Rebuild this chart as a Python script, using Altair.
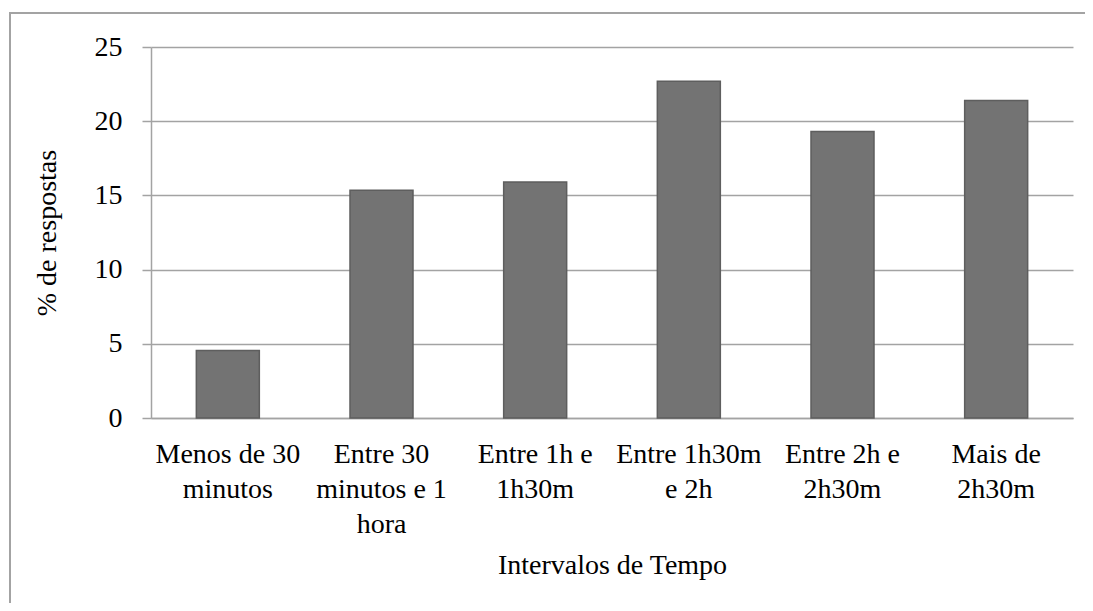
import altair as alt
import pandas as pd

categories = [
    "Menos de 30 minutos",
    "Entre 30 minutos e 1 hora",
    "Entre 1h e 1h30m",
    "Entre 1h30m e 2h",
    "Entre 2h e 2h30m",
    "Mais de 2h30m",
]
label_lines = [
    ["Menos de 30", "minutos"],
    ["Entre 30", "minutos e 1", "hora"],
    ["Entre 1h e", "1h30m"],
    ["Entre 1h30m", "e 2h"],
    ["Entre 2h e", "2h30m"],
    ["Mais de", "2h30m"],
]
values = [4.55, 15.35, 15.9, 22.7, 19.3, 21.4]
y_ticks = [0, 5, 10, 15, 20, 25]

df = pd.DataFrame({"cat": categories, "val": values})

mapping = "{" + ",".join(
    "'" + c + "':[" + ",".join("'" + l + "'" for l in ls) + "]"
    for c, ls in zip(categories, label_lines)
) + "}"
label_expr = mapping + "[datum.value]"

FONT = "Liberation Serif"
GRID = "#a3a3a3"
W, H = 922, 371

bars = alt.Chart(df).mark_bar(
    color="#737373", stroke="#5e5e5e", strokeWidth=1.5
).encode(
    x=alt.X(
        "cat:N",
        sort=categories,
        scale=alt.Scale(paddingInner=0.59, paddingOuter=0.295),
        axis=alt.Axis(
            title="Intervalos de Tempo",
            labelAngle=0,
            labelExpr=label_expr,
            labelFont=FONT,
            labelFontSize=28,
            labelLineHeight=35,
            labelPadding=22,
            ticks=False,
            domain=True,
            domainColor=GRID,
            domainWidth=1.5,
            titlePadding=13,
        ),
    ),
    y=alt.Y(
        "val:Q",
        scale=alt.Scale(domain=[0, 25]),
        axis=alt.Axis(
            title="% de respostas",
            values=y_ticks,
            labelFont=FONT,
            labelFontSize=28,
            grid=True,
            gridColor=GRID,
            gridWidth=1.5,
            tickSize=9,
            tickColor=GRID,
            tickWidth=1.5,
            domainColor=GRID,
            domainWidth=1.5,
            labelPadding=20,
            titlePadding=33,
        ),
    ),
)

frame_left = alt.Chart(df).mark_rect(color=GRID, strokeWidth=0).encode(
    x=alt.value(-142), x2=alt.value(-140), y=alt.value(-35), y2=alt.value(H + 185)
)
frame_top = alt.Chart(df).mark_rect(color=GRID, strokeWidth=0).encode(
    x=alt.value(-142), x2=alt.value(W + 12), y=alt.value(-35), y2=alt.value(-33)
)

chart = alt.layer(frame_left, frame_top, bars).properties(
    width=W, height=H, padding={"left": 1, "top": 4, "right": 0, "bottom": 0}
).configure(background="white").configure_view(stroke=None).configure_axis(
    labelFont=FONT, titleFont=FONT, labelFontSize=28, titleFontSize=28,
    labelColor="black", titleColor="black", titleFontWeight="normal",
)

chart.save("out.html", embed_options={"renderer": "svg", "actions": False})
